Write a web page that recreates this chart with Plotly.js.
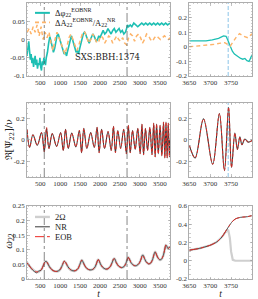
<!DOCTYPE html>
<html><head><meta charset="utf-8">
<script src="https://cdn.plot.ly/plotly-3.0.1.min.js"></script>
<style>html,body{margin:0;padding:0;background:#fff}#c{width:258px;height:299px}</style>
</head><body><div id="c"></div>
<script>
// ---- top panels: phase / amplitude differences ----
const phaseT = [166,190,210,230,250,270,290,310,330,350,370,390,410,430,450,470,490,510,530,550,570,590,610,630,650,680,710,740,770,800,830,860,890,920,950,980,1010,1040,1070,1100,1130,1160,1190,1220,1250,1280,1310,1340,1370,1400,1430,1460,1490,1520,1550,1580,1610,1640,1670,1700,1730,1760,1790,1820,1850,1880,1910,1940,1970,2000,2040,2080,2120,2160,2200,2240,2280,2320,2360,2400,2440,2480,2520,2560,2600,2640,2670,2690,2720,2760,2800,2850,2900,2950,3000,3050,3100,3150,3200,3250,3300,3350,3400,3450,3500,3550,3600,3650,3700,3760];
const phaseDiff = [-0.045,-0.02,-0.005,-0.03,-0.055,-0.04,-0.065,-0.05,-0.075,-0.06,-0.045,-0.07,-0.055,-0.08,-0.065,-0.07,-0.05,-0.075,-0.085,-0.06,-0.07,-0.05,-0.065,-0.07,-0.05,-0.035,-0.01,0.008,-0.005,-0.02,-0.035,-0.025,-0.005,0.01,0.015,0.005,-0.01,-0.02,-0.03,-0.04,-0.035,-0.045,-0.03,-0.015,0.0,0.01,0.0,-0.01,-0.025,-0.035,-0.03,-0.04,-0.025,-0.01,0.005,0.015,0.02,0.015,0.005,-0.005,-0.01,0.0,0.01,0.015,0.01,0.0,-0.005,0.0,0.01,0.005,0.015,0.025,0.015,0.02,0.03,0.02,0.015,0.025,0.03,0.02,0.025,0.03,0.02,0.025,0.015,0.02,0.03,0.04,0.035,0.04,0.035,0.045,0.04,0.035,0.04,0.045,0.04,0.045,0.04,0.045,0.04,0.045,0.04,0.045,0.04,0.045,0.04,0.045,0.04,0.045];
const ampT = [170,220,270,320,370,420,470,520,570,620,670,720,770,820,870,920,970,1020,1070,1120,1170,1220,1270,1320,1370,1420,1470,1520,1570,1620,1670,1720,1770,1820,1870,1920,1970,2020,2070,2120,2170,2220,2270,2320,2370,2420,2470,2520,2570,2620,2670,2720,2770,2820,2870,2920,2970,3020,3070,3120,3170,3220,3270,3320,3370,3420,3470,3520,3570,3620,3670,3720,3760];
const ampDiff = [0.02,0.03,0.015,0.035,0.02,0.04,0.01,0.035,0.0,0.02,0.005,0.02,-0.01,-0.03,0.0,0.02,0.005,-0.01,-0.03,-0.04,-0.02,0.005,0.015,0.0,-0.02,-0.03,-0.015,0.005,0.02,0.02,0.005,-0.01,0.0,0.015,0.005,-0.01,-0.005,0.01,0.005,-0.01,0.0,0.01,0.005,-0.01,0.0,0.01,0.0,-0.005,0.005,-0.01,-0.015,0.005,0.015,0.01,-0.005,0.01,0.015,0.005,-0.01,0.0,0.015,0.01,0.0,-0.005,0.005,0.01,0.005,0.0,0.005,0.01,0.005,0.0,0.005];
const phaseTR = [3650,3660,3675,3690,3705,3720,3732,3738,3743,3748,3753,3758,3763,3768,3773,3778,3783,3788,3793,3800];
const phaseDiffR = [0.04,0.039,0.037,0.04,0.047,0.058,0.075,0.072,0.04,0.0,-0.03,-0.05,-0.06,-0.075,-0.08,-0.085,-0.08,-0.095,-0.1,-0.055];
const ampTR = [3650,3670,3690,3710,3725,3735,3742,3748,3755,3762,3770,3780,3790,3800];
const ampDiffR = [0.0,0.005,0.01,0.017,0.025,0.028,0.015,0.005,0.035,0.065,0.09,0.072,0.062,0.09];

// ---- middle panels: Re[Psi22]/nu ----
const waveT = [166,232,315,425,531,600,657,718,801,911,1010,1078,1134,1202,1290,1394,1481,1538,1594,1670,1766,1857,1927,1978,2040,2115,2203,2282,2339,2388,2448,2520,2596,2663,2712,2760,2818,2885,2950,3009,3055,3096,3143,3196,3253,3307,3350,3387,3423,3466,3511,3555,3597,3630,3659,3688,3716,3745,3760];
const waveNR = [0.10,-0.07,0.05,-0.05,0.07,-0.11,0.11,-0.08,0.06,-0.06,0.07,-0.10,0.10,-0.08,0.065,-0.065,0.09,-0.12,0.11,-0.08,0.07,-0.07,0.12,-0.12,0.10,-0.08,0.08,-0.10,0.13,-0.12,0.09,-0.08,0.10,-0.13,0.14,-0.12,0.09,-0.09,0.11,-0.13,0.15,-0.14,0.11,-0.10,0.12,-0.14,0.16,-0.16,0.15,-0.13,0.14,-0.15,0.17,-0.17,0.17,-0.17,0.16,-0.16,0.0];
const waveEOB = [0.10,-0.07,0.05,-0.05,0.07,-0.11,0.12,-0.08,0.06,-0.06,0.07,-0.10,0.10,-0.08,0.065,-0.065,0.09,-0.12,0.11,-0.08,0.07,-0.07,0.12,-0.12,0.10,-0.08,0.08,-0.10,0.13,-0.12,0.09,-0.08,0.10,-0.13,0.14,-0.12,0.09,-0.09,0.11,-0.13,0.15,-0.14,0.11,-0.10,0.12,-0.14,0.16,-0.16,0.15,-0.13,0.14,-0.15,0.17,-0.17,0.17,-0.17,0.16,-0.16,0.0];
const waveTR = [3650,3664,3684,3706,3722,3734,3744,3751,3759,3765,3771,3776,3783,3791,3800];
const waveR = [-0.05,-0.17,0.2,-0.23,0.25,-0.29,0.31,-0.26,0.065,-0.09,0.03,-0.045,0.01,-0.02,-0.005];

// ---- bottom panels: omega22 ----
const omegaT = [166,220,280,340,400,460,520,570,610,643,680,730,790,850,920,990,1040,1080,1103,1140,1190,1250,1320,1390,1450,1495,1525,1545,1575,1620,1680,1750,1820,1880,1920,1950,1975,2010,2070,2140,2200,2260,2310,2345,2370,2410,2470,2540,2600,2650,2690,2712,2740,2790,2860,2920,2980,3030,3060,3080,3110,3160,3220,3270,3320,3360,3385,3410,3450,3500,3540,3590,3630,3655,3680,3710,3740,3760];
const omegaEOB = [0.056,0.046,0.036,0.029,0.025,0.025,0.031,0.044,0.057,0.061,0.055,0.042,0.032,0.027,0.026,0.031,0.043,0.056,0.061,0.056,0.043,0.033,0.028,0.029,0.036,0.050,0.061,0.065,0.058,0.045,0.035,0.031,0.033,0.042,0.056,0.066,0.064,0.052,0.040,0.034,0.035,0.043,0.058,0.069,0.069,0.056,0.044,0.039,0.042,0.053,0.068,0.074,0.068,0.054,0.046,0.046,0.053,0.067,0.080,0.082,0.073,0.059,0.052,0.054,0.066,0.085,0.093,0.087,0.074,0.066,0.067,0.080,0.103,0.116,0.112,0.104,0.108,0.110];
const omegaNR = [0.056,0.046,0.035,0.027,0.021,0.027,0.030,0.044,0.057,0.061,0.055,0.042,0.032,0.027,0.026,0.031,0.043,0.056,0.061,0.056,0.043,0.033,0.028,0.029,0.036,0.050,0.061,0.065,0.058,0.045,0.035,0.031,0.033,0.042,0.056,0.066,0.064,0.052,0.040,0.034,0.035,0.043,0.058,0.069,0.069,0.056,0.044,0.039,0.042,0.053,0.068,0.074,0.068,0.054,0.046,0.046,0.053,0.067,0.080,0.082,0.073,0.059,0.052,0.054,0.066,0.085,0.093,0.087,0.074,0.066,0.067,0.080,0.103,0.116,0.112,0.104,0.108,0.110];
const twoOmega = [0.056,0.046,0.036,0.029,0.025,0.025,0.031,0.044,0.057,0.061,0.055,0.042,0.032,0.027,0.026,0.031,0.043,0.056,0.061,0.056,0.043,0.033,0.028,0.029,0.036,0.050,0.061,0.065,0.058,0.045,0.035,0.031,0.033,0.042,0.056,0.066,0.064,0.052,0.040,0.034,0.035,0.043,0.058,0.069,0.069,0.056,0.044,0.039,0.042,0.053,0.068,0.074,0.068,0.054,0.046,0.046,0.053,0.067,0.080,0.082,0.073,0.059,0.052,0.054,0.066,0.085,0.093,0.087,0.074,0.066,0.067,0.080,0.103,0.116,0.112,0.104,0.108,0.110];
const omegaTR = [3650,3674,3700,3716,3728,3736,3745,3753,3761,3773,3789,3800];
const omegaR = [0.116,0.135,0.17,0.207,0.26,0.316,0.38,0.43,0.46,0.476,0.483,0.495];
const twoOmegaTR = [3650,3674,3700,3716,3728,3736,3743,3747,3750,3754,3760,3800];
const twoOmegaR = [0.116,0.135,0.17,0.207,0.26,0.31,0.34,0.25,0.10,0.01,0.0,0.0];

// reference times
const refTimes = [600, 2680];
const mergerTime = 3743;
const xTicksL = [500,1000,1500,2000,2500,3000,3500];
const xTicksR = [3650,3700,3750,3800];

const TEAL = '#1dbfb3', ORANGE = '#fdb46a', RED = '#ee2a24', NRC = '#3a3a3a', GRAY = '#cfcfcf', LBLUE = '#8cc4e8';

function tr(x, y, xa, ya, name, line) {
  return {x: x, y: y, xaxis: xa, yaxis: ya, name: name, type: 'scatter', mode: 'lines', line: line, showlegend: false};
}
const traces = [
  tr(phaseT, phaseDiff, 'x', 'y', 'Δφ22 EOBNR', {color: TEAL, width: 1.6}),
  tr(ampT, ampDiff, 'x', 'y', 'ΔA22 EOBNR / A22 NR', {color: ORANGE, width: 1.5, dash: '4px,3px'}),
  tr(phaseTR, phaseDiffR, 'x2', 'y2', 'Δφ22 EOBNR', {color: TEAL, width: 1.3}),
  tr(ampTR, ampDiffR, 'x2', 'y2', 'ΔA22 EOBNR / A22 NR', {color: ORANGE, width: 1.4, dash: '4px,3px'}),
  tr(waveT, waveNR, 'x3', 'y3', 'NR', {color: NRC, width: 1.1, shape: 'spline', smoothing: 1}),
  tr(waveT, waveEOB, 'x3', 'y3', 'EOB', {color: RED, width: 0.9, dash: '3px,2px', shape: 'spline', smoothing: 1}),
  tr(waveTR, waveR, 'x4', 'y4', 'NR', {color: NRC, width: 1.1, shape: 'spline', smoothing: 1}),
  tr(waveTR, waveR, 'x4', 'y4', 'EOB', {color: RED, width: 0.9, dash: '3px,2px', shape: 'spline', smoothing: 1}),
  tr(omegaT, twoOmega, 'x5', 'y5', '2Ω', {color: GRAY, width: 2.6, shape: 'spline', smoothing: 0.8}),
  tr(omegaT, omegaNR, 'x5', 'y5', 'NR', {color: NRC, width: 0.9, shape: 'spline', smoothing: 0.8}),
  tr(omegaT, omegaEOB, 'x5', 'y5', 'EOB', {color: RED, width: 0.9, dash: 'dashdot', shape: 'spline', smoothing: 0.8}),
  tr(twoOmegaTR, twoOmegaR, 'x6', 'y6', '2Ω', {color: GRAY, width: 2.2}),
  tr(omegaTR, omegaR, 'x6', 'y6', 'NR', {color: NRC, width: 0.9, shape: 'spline', smoothing: 0.8}),
  tr(omegaTR, omegaR, 'x6', 'y6', 'EOB', {color: RED, width: 0.9, dash: 'dashdot', shape: 'spline', smoothing: 0.8})
];

const FONT = 'Liberation Serif, DejaVu Serif, serif';
const tickFont = {family: FONT, size: 7, color: '#333'};
function ax(extra) {
  return Object.assign({
    showline: true, mirror: 'allticks', linecolor: '#9a9a9a', linewidth: 0.8,
    ticks: 'inside', ticklen: 2.5, tickwidth: 0.6, tickcolor: '#9a9a9a',
    showgrid: false, zeroline: false, tickfont: tickFont, fixedrange: true
  }, extra);
}
function fmt(v) { return String(v); }
const yTop = [-0.1,-0.05,0,0.05,0.1], yTopR = [-0.2,-0.1,0,0.1,0.2,0.3];
const yMid = [-0.2,0,0.2], yBot = [0,0.05,0.1,0.15,0.2,0.25], yBotR = [-0.2,0,0.2,0.4,0.6];

const dTop = [0.7355, 1], dMid = [0.3696, 0.6377], dBot = [0, 0.2645];
const dL = [0, 0.6356], dR = [0.7213, 1];

const xl = (anchor, dom, title) => ax({domain: dom, anchor: anchor, range: [166, 3760], tickvals: xTicksL, ticktext: xTicksL.map(fmt), minor: {ticks: 'inside', ticklen: 1.3, tickcolor: '#aaa', dtick: 100}, title: title});
const xr = (anchor, dom, title) => ax({domain: dom, anchor: anchor, range: [3650, 3800], tickvals: xTicksR, ticktext: xTicksR.map(fmt), minor: {ticks: 'inside', ticklen: 1.3, tickcolor: '#aaa', dtick: 10}, title: title});
const tTitle = {text: '<i>t</i>', font: {family: FONT, size: 9.5, color: '#222'}, standoff: 4};

const layout = {
  width: 258, height: 299,
  margin: {l: 27, r: 6, t: 3, b: 20},
  paper_bgcolor: '#fff', plot_bgcolor: '#fff',
  font: {family: FONT, color: '#222', size: 8},
  showlegend: false,
  xaxis: xl('y', dL), yaxis: ax({domain: dTop, anchor: 'x', range: [-0.1, 0.1], tickvals: yTop, ticktext: yTop.map(fmt), minor: {ticks: 'inside', ticklen: 1.3, tickcolor: '#aaa', dtick: 0.01}}),
  xaxis2: xr('y2', dR), yaxis2: ax({domain: dTop, anchor: 'x2', range: [-0.2, 0.3], tickvals: yTopR, ticktext: yTopR.map(fmt), minor: {ticks: 'inside', ticklen: 1.3, tickcolor: '#aaa', dtick: 0.02}}),
  xaxis3: xl('y3', dL), yaxis3: ax({domain: dMid, anchor: 'x3', range: [-0.35, 0.35], tickvals: yMid, ticktext: yMid.map(fmt), minor: {ticks: 'inside', ticklen: 1.3, tickcolor: '#aaa', dtick: 0.05}}),
  xaxis4: xr('y4', dR), yaxis4: ax({domain: dMid, anchor: 'x4', range: [-0.35, 0.35], tickvals: yMid, ticktext: yMid.map(fmt), minor: {ticks: 'inside', ticklen: 1.3, tickcolor: '#aaa', dtick: 0.05}}),
  xaxis5: xl('y5', dL, tTitle), yaxis5: ax({domain: dBot, anchor: 'x5', range: [0, 0.25], tickvals: yBot, ticktext: yBot.map(fmt), minor: {ticks: 'inside', ticklen: 1.3, tickcolor: '#aaa', dtick: 0.01}}),
  xaxis6: xr('y6', dR, tTitle), yaxis6: ax({domain: dBot, anchor: 'x6', range: [-0.2, 0.6], tickvals: yBotR, ticktext: yBotR.map(fmt), minor: {ticks: 'inside', ticklen: 1.3, tickcolor: '#aaa', dtick: 0.05}}),
  shapes: [],
  annotations: []
};

// dash-dot reference lines in the left panels
[['x','y'],['x3','y3'],['x5','y5']].forEach(([xa, ya]) => {
  refTimes.forEach(t => layout.shapes.push({type: 'line', xref: xa, yref: ya + ' domain', x0: t, x1: t, y0: 0, y1: 1, line: {color: '#555', width: 0.7, dash: 'dashdot'}, layer: 'above'}));
});
// merger line in the right panels
[['x2','y2'],['x4','y4']].forEach(([xa, ya]) => {
  layout.shapes.push({type: 'line', xref: xa, yref: ya + ' domain', x0: mergerTime, x1: mergerTime, y0: 0, y1: 1, line: {color: LBLUE, width: 1, dash: '4px,2px'}, layer: 'below'});
});

// manual legends (short line samples as in the original)
function legendRow(xa, ya, yfrac, line, text) {
  layout.shapes.push({type: 'line', xref: xa + ' domain', yref: ya + ' domain', x0: 0.056, x1: 0.160, y0: yfrac, y1: yfrac, line: line});
  layout.annotations.push({xref: xa + ' domain', yref: ya + ' domain', x: 0.185, y: yfrac, xanchor: 'left', yanchor: 'middle', showarrow: false, text: text, font: {family: FONT, size: 8.5, color: '#222'}});
}
legendRow('x', 'y', 0.865, {color: TEAL, width: 2}, 'Δφ<sub>22</sub><sup>EOBNR</sup>');
legendRow('x', 'y', 0.735, {color: ORANGE, width: 1.6, dash: '4px,3px'}, 'ΔA<sub>22</sub><sup>EOBNR</sup>/A<sub>22</sub><sup>NR</sup>');
legendRow('x5', 'y5', 0.85, {color: GRAY, width: 2.4}, '2Ω');
legendRow('x5', 'y5', 0.715, {color: NRC, width: 1}, 'NR');
legendRow('x5', 'y5', 0.58, {color: RED, width: 1, dash: 'dashdot'}, 'EOB');

layout.annotations.push({xref: 'x', yref: 'y', x: 2200, y: -0.048, showarrow: false, text: 'SXS:BBH:1374', font: {family: 'DejaVu Serif, serif', size: 8.5, color: '#222'}});
layout.annotations.push({xref: 'paper', yref: 'paper', x: -0.078, y: 0.5036, xanchor: 'center', yanchor: 'middle', textangle: -90, showarrow: false, text: 'ℜ[Ψ<sub>22</sub>]/ν', font: {family: 'DejaVu Serif, serif', size: 9.5, color: '#222'}});
layout.annotations.push({xref: 'paper', yref: 'paper', x: -0.078, y: 0.14, xanchor: 'center', yanchor: 'middle', textangle: -90, showarrow: false, text: '<i>ω</i><sub>22</sub>', font: {family: FONT, size: 11, color: '#222'}});

Plotly.newPlot('c', traces, layout, {staticPlot: true, displayModeBar: false});
</script></body></html>
